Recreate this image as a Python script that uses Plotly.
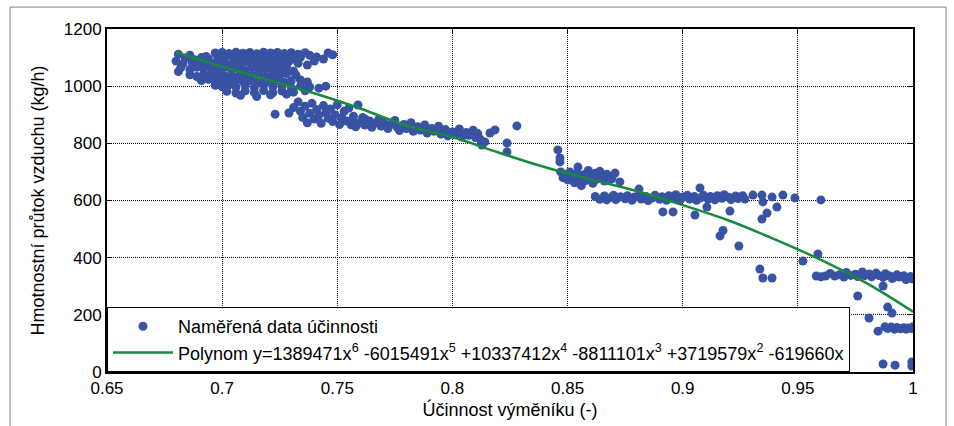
import plotly.graph_objects as go

upper_cluster = [
    (0.681,1112),(0.686,1108),(0.693,1104),(0.697,1116),(0.700,1118),(0.703,1114),(0.706,1119),(0.709,1115),
    (0.712,1118),(0.715,1113),(0.718,1119),(0.721,1116),(0.724,1118),(0.727,1114),(0.730,1117),(0.733,1112),
    (0.736,1117),(0.738,1108),(0.746,1116),(0.748,1110),
    (0.684,1098),(0.688,1092),(0.691,1100),(0.694,1096),(0.698,1103),(0.701,1099),(0.704,1104),(0.707,1097),
    (0.710,1102),(0.713,1098),(0.716,1104),(0.719,1096),(0.722,1101),(0.725,1099),(0.728,1104),(0.731,1096),
    (0.734,1101),(0.741,1102),(0.744,1095),
    (0.680,1088),(0.683,1078),(0.687,1082),(0.690,1076),(0.693,1084),(0.696,1079),(0.699,1085),(0.702,1077),
    (0.705,1083),(0.708,1078),(0.711,1085),(0.714,1080),(0.717,1084),(0.720,1077),(0.723,1082),(0.726,1079),
    (0.729,1086),(0.733,1080),(0.737,1074),(0.740,1088),
    (0.682,1064),(0.686,1058),(0.689,1066),(0.692,1060),(0.695,1063),(0.698,1057),(0.701,1065),(0.704,1059),
    (0.707,1062),(0.710,1056),(0.713,1064),(0.716,1059),(0.719,1063),(0.722,1057),(0.725,1061),(0.728,1066),
    (0.731,1052),
    (0.681,1051),(0.686,1040),(0.689,1034),(0.692,1043),(0.695,1037),(0.698,1044),(0.701,1036),(0.704,1041),
    (0.707,1035),(0.710,1043),(0.713,1038),(0.716,1045),(0.719,1036),(0.722,1041),(0.725,1037),(0.728,1044),
    (0.732,1039),
    (0.691,1020),(0.694,1024),(0.697,1018),(0.700,1021),(0.703,1014),(0.706,1023),(0.709,1017),(0.712,1020),
    (0.715,1013),(0.718,1022),(0.721,1016),(0.724,1020),(0.727,1014),(0.730,1019),(0.734,1022),(0.737,1015),
    (0.697,1003),(0.700,998),(0.703,1005),(0.706,997),(0.710,1002),(0.714,996),(0.718,1004),(0.722,998),
    (0.726,1001),(0.730,995),(0.734,1000),(0.738,997),(0.742,993),(0.745,1000),
    (0.702,982),(0.706,976),(0.710,984),(0.714,978),(0.718,985),(0.722,977),(0.726,983),(0.731,979),(0.736,984),
    (0.708,968),(0.715,964),(0.721,970),(0.728,972),
]

middle_band = [
    (0.723,902),(0.729,906),(0.731,925),(0.733,945),(0.734,912),(0.735,890),(0.736,930),(0.737,872),
    (0.738,905),(0.739,940),(0.740,885),(0.741,918),(0.742,898),(0.743,870),(0.744,932),(0.745,908),
    (0.746,888),(0.747,920),(0.748,876),(0.749,900),(0.750,935),(0.751,866),(0.752,890),(0.753,912),
    (0.754,878),(0.755,923),(0.756,865),(0.757,895),(0.759,934),(0.760,872),(0.762,885),
    (0.757,880),(0.758,858),(0.760,872),(0.761,890),(0.762,864),(0.764,878),(0.765,856),(0.766,870),
    (0.768,884),(0.769,860),(0.770,874),(0.772,852),(0.773,866),(0.775,880),(0.776,856),(0.777,845),
    (0.779,866),(0.780,852),(0.782,872),(0.783,842),(0.785,858),(0.786,846),(0.788,864),(0.789,836),
    (0.791,852),(0.792,842),(0.794,860),(0.795,832),(0.797,848),(0.798,826),(0.800,840),(0.801,830),
    (0.803,850),(0.804,822),(0.806,838),(0.807,828),(0.809,846),(0.810,820),(0.811,834),(0.812,815),
    (0.8128,794),(0.8141,805),(0.8163,836),(0.8185,847),(0.8237,801),(0.8237,770),(0.828,861),
]

step_cluster = [
    (0.8458,777),(0.8467,749),(0.8467,735),(0.847,700),(0.848,680),(0.849,690),(0.850,672),(0.851,700),
    (0.852,685),(0.853,662),(0.854,695),(0.8545,717),(0.855,678),(0.856,652),(0.857,690),(0.858,670),
    (0.859,705),(0.860,683),(0.861,660),(0.862,695),(0.863,675),(0.864,702),(0.865,686),(0.866,668),
    (0.867,692),(0.869,675),(0.8706,696),(0.8727,665),(0.8693,679),(0.881,640),
]

lower_band = [
    (0.862,614),(0.864,604),(0.866,616),(0.867,602),(0.869,611),(0.870,618),(0.871,603),(0.873,613),
    (0.875,606),(0.876,617),(0.878,601),(0.879,612),(0.881,619),(0.882,605),(0.884,614),(0.885,600),
    (0.887,609),(0.888,618),(0.890,604),(0.891,613),(0.893,601),(0.894,617),(0.896,607),(0.897,620),
    (0.899,603),(0.900,612),(0.902,618),(0.903,605),(0.905,614),(0.906,601),(0.908,610),(0.909,619),
    (0.911,605),(0.912,614),(0.914,602),(0.915,617),(0.917,608),(0.918,620),(0.920,611),(0.921,603),
    (0.923,616),(0.924,607),(0.926,617),(0.927,605),(0.9075,644),
    (0.9305,619),(0.9344,619),(0.9388,612),(0.9435,619),(0.9487,609),(0.960,602),
]

scattered = [
    (0.8914,560),(0.8958,560),(0.9053,549),(0.9105,577),(0.9205,563),(0.9175,495),(0.9162,476),
    (0.9244,441),(0.9366,556),(0.9344,535),(0.9348,595),(0.9409,577),
    (0.9335,360),(0.9348,329),(0.9388,329),(0.9522,388),(0.9587,413),
]

right_band = [
    (0.958,336),(0.960,333),(0.962,336),(0.964,345),(0.966,336),(0.968,340),(0.970,332),(0.971,348),
    (0.973,338),(0.975,342),(0.976,334),(0.978,350),(0.979,337),(0.981,343),(0.982,333),(0.984,346),
    (0.985,338),(0.987,331),(0.988,344),(0.990,336),(0.991,327),(0.993,340),(0.994,332),(0.996,337),
    (0.997,323),(0.999,334),(0.9995,326),
    (0.976,266),(0.987,301),(0.989,227),(0.9909,206),(0.9809,189),(0.9848,143),
]

right_low = [
    (0.9878,158),(0.989,152),(0.9905,157),(0.992,150),(0.993,156),(0.9945,151),(0.996,155),(0.997,150),
    (0.998,154),(0.9995,152),(1.0,158),
    (0.987,28),(0.9922,24),(0.9995,21),(0.9995,35),
]

fit_x = [0.68, 0.70, 0.72, 0.74, 0.76, 0.78, 0.80, 0.82, 0.84, 0.86, 0.88, 0.90, 0.92, 0.94, 0.96, 0.98, 1.00]
fit_y = [1119, 1068, 1022, 975, 922, 862, 822, 768, 717, 674, 633, 584, 530, 464, 392, 310, 211]

x_ticks = [0.65, 0.7, 0.75, 0.8, 0.85, 0.9, 0.95, 1.0]
x_tick_text = ["0.65", "0.7", "0.75", "0.8", "0.85", "0.9", "0.95", "1"]
y_ticks = [0, 200, 400, 600, 800, 1000, 1200]

all_points = upper_cluster + middle_band + step_cluster + lower_band + scattered + right_band + right_low
mx = [p[0] for p in all_points]
my = [p[1] for p in all_points]

FONT = "Liberation Sans, Arial, sans-serif"

fig = go.Figure()
fig.add_trace(go.Scatter(
    x=mx, y=my, mode="markers", name="Naměřená data účinnosti",
    marker=dict(color="#3953a4", size=9, line=dict(width=0)),
))
fig.add_trace(go.Scatter(
    x=fit_x, y=fit_y, mode="lines", line_shape="spline",
    name="Polynom y=1389471x<sup>6</sup> -6015491x<sup>5</sup> +10337412x<sup>4</sup> -8811101x<sup>3</sup> +3719579x<sup>2</sup> -619660x",
    line=dict(color="#178a3c", width=2.5),
))

axis_common = dict(
    showline=True, linecolor="black", linewidth=2, mirror="ticks",
    ticks="inside", ticklen=5, tickcolor="black", tickwidth=1,
    showgrid=True, gridcolor="#111111", gridwidth=1, griddash="1px,1px",
    zeroline=False, automargin=False,
    tickfont=dict(family=FONT, size=17, color="black"),
)

fig.update_xaxes(range=[0.65, 1.0], tickvals=x_ticks, ticktext=x_tick_text,
                 title=dict(text="Účinnost výměníku (-)", font=dict(family=FONT, size=18, color="black"), standoff=6),
                 **axis_common)
fig.update_yaxes(range=[0, 1200], tickvals=y_ticks,
                 title=dict(text="Hmotnostní průtok vzduchu (kg/h)", font=dict(family=FONT, size=18, color="black"), standoff=14),
                 **axis_common)

fig.update_layout(
    width=954, height=426,
    margin=dict(l=107, r=41, t=29, b=54),
    paper_bgcolor="white", plot_bgcolor="white",
    font=dict(family=FONT, size=17, color="black"),
    showlegend=True,
    legend=dict(x=0, y=0, xanchor="left", yanchor="bottom",
                bordercolor="black", borderwidth=1, bgcolor="white",
                font=dict(family=FONT, size=18, color="black"),
                itemwidth=60, tracegroupgap=0),
    shapes=[dict(type="rect", xref="paper", yref="paper",
                 x0=-0.1203, x1=1.041, y0=-0.3, y1=1.064,
                 line=dict(color="#808080", width=1), fillcolor="rgba(0,0,0,0)", layer="below")],
)

fig.write_html("out.html", config={"displayModeBar": False},
               post_script="document.body.style.margin='0';")
